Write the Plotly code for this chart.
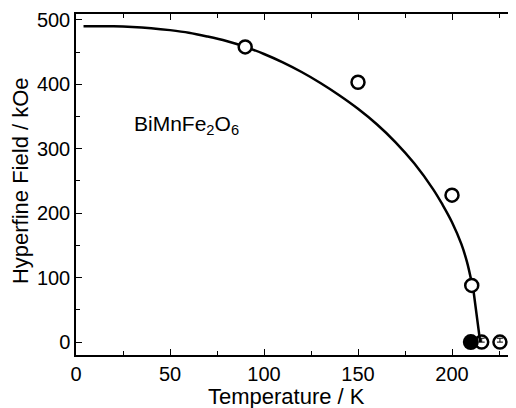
import plotly.graph_objects as go

# fitted curve (smooth part, then the steep drop)
fit_temp = [4, 20, 30, 40, 50, 60, 70, 80, 90, 100, 110, 120, 130, 140, 150,
            160, 170, 180, 190, 195, 200, 205, 208, 210.5]
fit_field = [490, 490, 489, 487, 484, 480, 474, 467, 458, 447, 434, 419, 402, 383, 362,
             338, 310, 277, 237, 213, 186, 152, 124, 92]
drop_temp = [210.5, 211.5, 215]
drop_field = [92, 78, 0]

# measured points (open circles)
open_temp = [90, 150, 200, 210.5]
open_field = [458, 403, 228, 88]

# paramagnetic points with small error bars
para_temp = [215.8, 225.5]
para_field = [0, 0]
para_err = [6, 6]

# filled point
filled_temp = [210]
filled_field = [0]

FONT = "Arial, Liberation Sans, Helvetica, sans-serif"

fig = go.Figure()

fig.add_trace(go.Scatter(
    x=fit_temp, y=fit_field, mode="lines",
    line=dict(color="black", width=2.5, shape="spline", smoothing=1), showlegend=False
))
fig.add_trace(go.Scatter(
    x=drop_temp, y=drop_field, mode="lines",
    line=dict(color="black", width=2.5), showlegend=False
))

fig.add_trace(go.Scatter(
    x=filled_temp, y=filled_field, mode="markers",
    marker=dict(symbol="circle", size=16, color="black"), showlegend=False
))

fig.add_trace(go.Scatter(
    x=para_temp, y=para_field, mode="markers",
    marker=dict(symbol="circle-open", size=13, color="black", line=dict(width=2.5)),
    error_y=dict(type="data", array=para_err, arrayminus=[0, 0], symmetric=False,
                 color="black", thickness=1, width=3),
    showlegend=False
))

fig.add_trace(go.Scatter(
    x=open_temp, y=open_field, mode="markers",
    marker=dict(symbol="circle", size=13, color="white",
                line=dict(color="black", width=2.5)),
    showlegend=False
))

fig.add_annotation(
    x=30, y=337, xref="x", yref="y", xanchor="left", yanchor="middle",
    text="BiMnFe<sub>2</sub>O<sub>6</sub>", showarrow=False,
    font=dict(family=FONT, size=21, color="black")
)

# axis titles placed as annotations for exact position
fig.add_annotation(
    x=(286 - 76) / 448, y=-0.123, xref="paper", yref="paper", xanchor="center", yanchor="middle",
    text="Temperature / K", showarrow=False,
    font=dict(family=FONT, size=22, color="black")
)
fig.add_annotation(
    x=(20 - 76) / 448, y=0.51, xref="paper", yref="paper", xanchor="center", yanchor="middle",
    text="Hyperfine Field / kOe", showarrow=False, textangle=-90,
    font=dict(family=FONT, size=22, color="black")
)

axis_common = dict(
    showline=True, linecolor="black", linewidth=1.5, mirror="ticks",
    ticks="inside", ticklen=6, tickwidth=1.2, tickcolor="black",
    showgrid=False, zeroline=False, automargin=False,
    tickfont=dict(family=FONT, size=20, color="black"),
)

# the page adds an 8px body margin; the right frame edge runs past the window
fig.update_layout(
    width=516, height=400,
    margin=dict(l=68, r=0, t=6, b=53),
    plot_bgcolor="white", paper_bgcolor="white",
    xaxis=dict(
        range=[0, 238.3], tick0=0, dtick=50,
        minor=dict(ticks="inside", ticklen=4, dtick=25, tickcolor="black", tickwidth=1.2),
        **axis_common
    ),
    yaxis=dict(
        range=[-20, 509], tick0=0, dtick=100,
        minor=dict(ticks="inside", ticklen=4, dtick=50, tickcolor="black", tickwidth=1.2),
        **axis_common
    ),
)

fig.write_html("out.html")
